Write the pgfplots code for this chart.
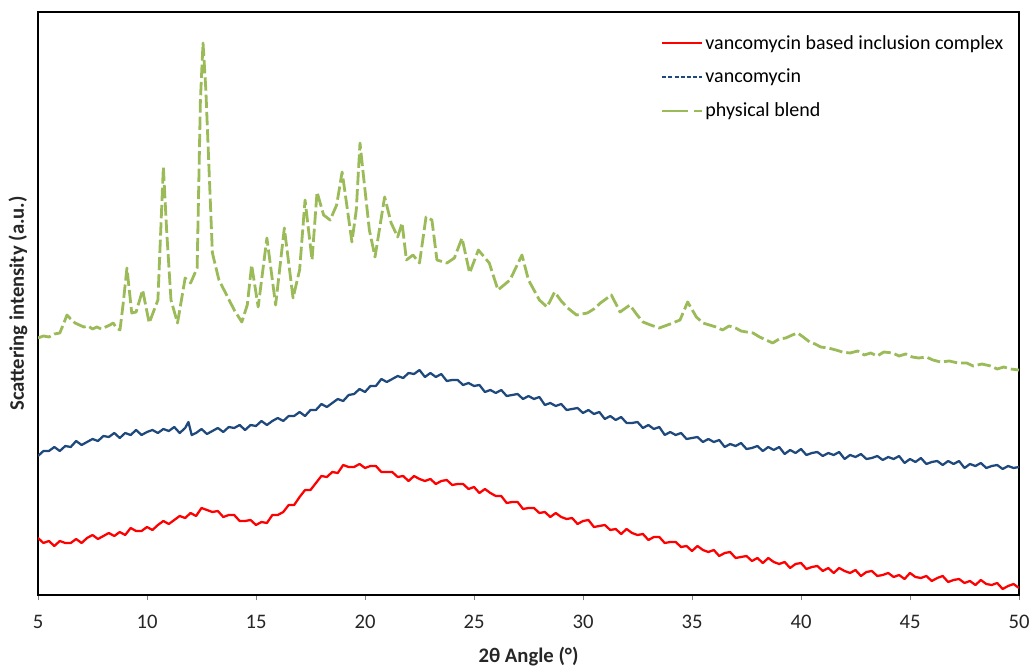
\documentclass[border=0pt]{standalone}
\usepackage{fontspec}
\setmainfont{Carlito}
\usepackage{pgfplots}
\pgfplotsset{compat=1.18}
\definecolor{cred}{RGB}{255,0,0}
\definecolor{cblue}{RGB}{31,73,125}
\definecolor{cgreen}{RGB}{155,187,89}
\begin{document}
\begin{tikzpicture}
\useasboundingbox (-28.5pt,-54.75pt) rectangle (746.25pt,446.25pt);
\begin{axis}[
  at={(0pt,0pt)}, anchor=south west,
  scale only axis, width=735.75pt, height=437.25pt,
  xmin=5, xmax=50, ymin=0, ymax=583,
  xtick={5,10,...,50}, ytick=\empty,
  tick align=outside, xtick pos=bottom, major tick length=4pt,
  tick style={gray, line width=0.6pt},
  axis line style={black, line width=0.9pt},
  /pgf/number format/assume math mode=true,
  tick label style={font=\fontsize{15.5}{18}\selectfont, text=black!85},
  xticklabel style={yshift=-7.5pt},
  xlabel={\textbf{2θ Angle (°)}},
  ylabel={\textbf{Scattering intensity (a.u.)}},
  label style={font=\fontsize{15.5}{18}\selectfont, text=black!85},
  xlabel style={at={(axis description cs:0.5,0)}, anchor=center, yshift=-46.5pt},
  ylabel style={at={(axis description cs:-0.0204,0.5)}, anchor=center},
  legend style={at={(rel axis cs:0.635,0.964)}, anchor=north west, draw=none, fill=none,
    font=\fontsize{15}{18}\selectfont, row sep=10.5pt, inner sep=0pt, nodes={inner sep=1.5pt}},
  legend cell align=left,
  legend image code/.code={\draw[#1] (0pt,0pt) -- (30pt,0pt);},
]
\addplot[draw=cred, line width=1.7pt, line join=round, forget plot] coordinates {
(5.00,57)(5.25,52)(5.50,54)(5.75,49)(6.00,54)(6.25,52)(6.50,52)(6.75,56)(7.00,52)(7.25,57)
(7.50,60)(7.75,56)(8.00,59)(8.25,62)(8.50,59)(8.75,63)(9.00,60)(9.25,67)(9.50,64)(9.75,64)
(10.00,68)(10.25,65)(10.50,70)(10.75,74)(11.00,71)(11.25,75)(11.50,79)(11.75,77)(12.00,82)(12.25,79)
(12.50,87)(12.75,85)(13.00,83)(13.25,84)(13.50,78)(13.75,80)(14.00,80)(14.25,74)(14.50,74)(14.75,75)
(15.00,70)(15.25,73)(15.50,72)(15.75,80)(16.00,80)(16.25,83)(16.50,90)(16.75,90)(17.00,98)(17.25,105)
(17.50,105)(17.75,112)(18.00,119)(18.25,118)(18.50,123)(18.75,122)(19.00,130)(19.25,128)(19.50,128)(19.75,131)
(20.00,127)(20.25,129)(20.50,129)(20.75,123)(21.00,123)(21.25,123)(21.50,118)(21.75,119)(22.00,114)(22.25,119)
(22.50,116)(22.75,114)(23.00,116)(23.25,111)(23.50,114)(23.75,115)(24.00,110)(24.25,111)(24.50,111)(24.75,106)
(25.00,108)(25.25,102)(25.50,106)(25.75,102)(26.00,99)(26.25,99)(26.50,92)(26.75,93)(27.00,93)(27.25,86)
(27.50,87)(27.75,87)(28.00,82)(28.25,83)(28.50,78)(28.75,82)(29.00,78)(29.25,76)(29.50,77)(29.75,71)
(30.00,74)(30.25,75)(30.50,68)(30.75,69)(31.00,70)(31.25,65)(31.50,66)(31.75,61)(32.00,66)(32.25,62)
(32.50,60)(32.75,61)(33.00,55)(33.25,58)(33.50,58)(33.75,52)(34.00,53)(34.25,53)(34.50,48)(34.75,49)
(35.00,44)(35.25,49)(35.50,45)(35.75,43)(36.00,45)(36.25,39)(36.50,42)(36.75,43)(37.00,37)(37.25,38)
(37.50,39)(37.75,34)(38.00,37)(38.25,32)(38.50,37)(38.75,33)(39.00,31)(39.25,33)(39.50,27)(39.75,31)
(40.00,32)(40.25,26)(40.50,28)(40.75,29)(41.00,24)(41.25,27)(41.50,22)(41.75,27)(42.00,24)(42.25,22)
(42.50,25)(42.75,19)(43.00,23)(43.25,24)(43.50,19)(43.75,20)(44.00,22)(44.25,18)(44.50,20)(44.75,16)
(45.00,22)(45.25,18)(45.50,17)(45.75,19)(46.00,14)(46.25,17)(46.50,19)(46.75,13)(47.00,15)(47.25,16)
(47.50,12)(47.75,14)(48.00,10)(48.25,15)(48.50,11)(48.75,10)(49.00,12)(49.25,6)(49.50,9)(49.75,11)
(50.00,7)
};
\addplot[draw=cblue, line width=1.7pt, line join=round, forget plot] coordinates {
(5.00,139)(5.25,144)(5.50,144)(5.75,148)(6.00,144)(6.25,149)(6.50,148)(6.75,154)(7.00,150)(7.25,153)
(7.50,156)(7.75,154)(8.00,159)(8.25,158)(8.50,162)(8.75,157)(9.00,162)(9.25,160)(9.50,165)(9.75,160)
(10.00,163)(10.25,165)(10.50,162)(10.75,166)(11.00,164)(11.25,168)(11.50,162)(11.75,167)(11.90,173)(12.05,160)
(12.25,162)(12.50,166)(12.75,161)(13.00,164)(13.25,167)(13.50,163)(13.75,168)(14.00,167)(14.25,170)(14.50,165)
(14.75,170)(15.00,169)(15.25,174)(15.50,170)(15.75,174)(16.00,177)(16.25,174)(16.50,179)(16.75,179)(17.00,183)
(17.25,179)(17.50,185)(17.75,185)(18.00,191)(18.25,188)(18.50,192)(18.75,196)(19.00,194)(19.25,200)(19.50,201)
(19.75,206)(20.00,203)(20.25,209)(20.50,209)(20.75,216)(21.00,213)(21.25,216)(21.50,219)(21.75,217)(22.00,222)
(22.25,221)(22.50,225)(22.75,218)(23.00,222)(23.25,218)(23.50,221)(23.75,214)(24.00,215)(24.25,215)(24.50,210)
(24.75,212)(25.00,209)(25.25,210)(25.50,203)(25.75,205)(26.00,202)(26.25,205)(26.50,199)(26.75,200)(27.00,201)
(27.25,196)(27.50,199)(27.75,196)(28.00,198)(28.25,190)(28.50,192)(28.75,189)(29.00,191)(29.25,185)(29.50,186)
(29.75,187)(30.00,182)(30.25,185)(30.50,181)(30.75,183)(31.00,176)(31.25,179)(31.50,175)(31.75,178)(32.00,172)
(32.25,172)(32.50,173)(32.75,167)(33.00,170)(33.25,166)(33.50,168)(33.75,160)(34.00,163)(34.25,160)(34.50,162)
(34.75,156)(35.00,157)(35.25,158)(35.50,153)(35.75,156)(36.00,153)(36.25,155)(36.50,148)(36.75,151)(37.00,149)
(37.25,152)(37.50,146)(37.75,147)(38.00,149)(38.25,144)(38.50,148)(38.75,145)(39.00,148)(39.25,141)(39.50,145)
(39.75,142)(40.00,146)(40.25,140)(40.50,142)(40.75,143)(41.00,139)(41.25,142)(41.50,140)(41.75,143)(42.00,136)
(42.25,140)(42.50,138)(42.75,141)(43.00,136)(43.25,137)(43.50,139)(43.75,135)(44.00,138)(44.25,136)(44.50,139)
(44.75,132)(45.00,136)(45.25,133)(45.50,137)(45.75,131)(46.00,133)(46.25,134)(46.50,130)(46.75,134)(47.00,131)
(47.25,134)(47.50,127)(47.75,131)(48.00,129)(48.25,132)(48.50,127)(48.75,129)(49.00,130)(49.25,126)(49.50,129)
(49.75,127)(50.00,128)
};
\addplot[draw=cgreen, line width=2.1pt, line join=round, dash pattern=on 10pt off 3pt, forget plot] coordinates {
(5.00,257)(5.25,259)(5.50,258)(5.75,261)(6.00,262)(6.15,270)(6.33,280)(6.50,276)(6.70,272)(6.90,270)
(7.10,268)(7.30,269)(7.50,266)(7.70,268)(7.90,266)(8.10,268)(8.30,270)(8.45,272)(8.60,267)(8.76,265)
(8.90,290)(9.08,327)(9.30,282)(9.50,283)(9.80,305)(10.10,272)(10.50,295)(10.75,428)(10.90,365)(11.10,295)
(11.40,272)(11.75,317)(12.00,312)(12.30,327)(12.45,495)(12.57,552)(12.70,505)(13.00,342)(13.30,315)(13.70,298)
(14.00,285)(14.35,273)(14.60,290)(14.80,330)(15.10,288)(15.50,357)(15.90,290)(16.30,367)(16.70,297)(17.00,325)
(17.25,395)(17.57,335)(17.80,403)(18.10,380)(18.40,375)(18.70,390)(18.95,423)(19.10,400)(19.40,353)(19.60,385)
(19.77,452)(19.95,415)(20.20,365)(20.46,338)(20.90,398)(21.20,372)(21.50,358)(21.70,372)(21.90,335)(22.20,340)
(22.50,332)(22.80,378)(23.07,375)(23.30,335)(23.76,332)(24.10,337)(24.45,357)(24.80,322)(25.20,345)(25.70,332)
(26.10,305)(26.65,315)(27.20,340)(27.50,315)(28.00,295)(28.35,288)(28.70,303)(29.00,294)(29.30,287)(29.70,280)
(30.20,282)(30.50,286)(30.80,292)(31.05,296)(31.30,300)(31.70,283)(32.15,290)(32.45,281)(32.75,273)(33.10,270)
(33.50,267)(34.00,271)(34.45,275)(34.80,293)(35.20,278)(35.50,272)(35.80,270)(36.10,268)(36.40,265)(36.70,269)
(37.00,267)(37.25,264)(37.50,263)(37.80,262)(38.10,258)(38.40,255)(38.70,252)(39.00,256)(39.30,257)(39.60,260)
(39.85,262)(40.10,258)(40.40,253)(40.65,251)(40.90,248)(41.25,247)(41.60,245)(41.90,243)(42.25,242)(42.60,244)
(42.90,240)(43.20,242)(43.50,239)(43.80,243)(44.20,242)(44.50,239)(44.80,241)(45.10,238)(45.40,237)(45.75,238)
(46.05,235)(46.40,233)(46.80,234)(47.20,232)(47.60,232)(47.90,229)(48.30,231)(48.70,229)(49.00,226)(49.30,228)
(49.60,226)(50.00,225)
};
\addlegendimage{draw=red, line width=1.7pt}
\addlegendentry{vancomycin based inclusion complex}
\addlegendimage{draw=cblue, line width=1.4pt, dash pattern=on 3pt off 1.6pt}
\addlegendentry{vancomycin}
\addlegendimage{draw=cgreen, line width=1.7pt, dash pattern=on 19pt off 5pt on 6pt off 0pt}
\addlegendentry{physical blend}
\end{axis}
\end{tikzpicture}
\end{document}
